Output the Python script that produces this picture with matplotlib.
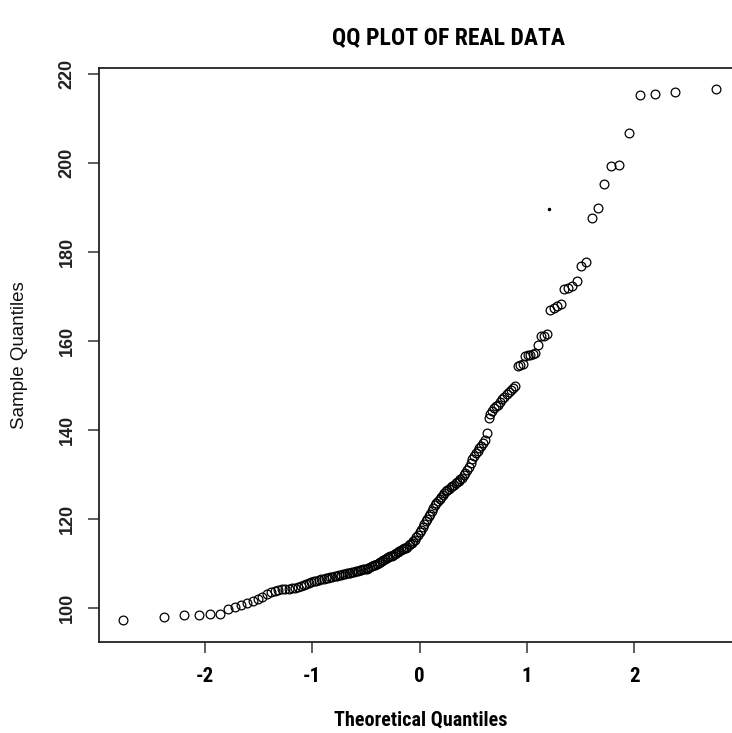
import matplotlib
matplotlib.use("Agg")
import matplotlib.pyplot as plt
from statistics import NormalDist

# Sample values (sorted)
sample_values = [
    97.3, 98.1, 98.4, 98.4, 98.6, 98.6, 99.9, 100.3, 100.6, 101.1,
    101.5, 102.0, 102.6, 103.2, 103.6, 103.9, 104.1, 104.2, 104.3, 104.4,
    104.5, 104.6, 104.8, 105.0, 105.2, 105.4, 105.6, 105.8, 106.0, 106.2,
    106.4, 106.5, 106.6, 106.7, 106.8, 106.9, 107.0, 107.2, 107.3, 107.4,
    107.5, 107.6, 107.7, 107.8, 107.9, 108.0, 108.1, 108.2, 108.3, 108.4,
    108.5, 108.6, 108.7, 108.8, 108.9, 109.0, 109.2, 109.4, 109.6, 109.8,
    110.0, 110.2, 110.4, 110.6, 110.8, 111.0, 111.2, 111.4, 111.6, 111.8,
    112.0, 112.2, 112.4, 112.6, 112.8, 113.0, 113.2, 113.4, 113.6, 113.8,
    114.1, 114.4, 114.7, 115.0, 115.4, 115.9, 116.4, 117.0, 117.6, 118.2,
    118.9, 119.5, 120.1, 120.6, 121.2, 121.8, 122.5, 123.1, 123.6, 124.1,
    124.6, 125.0, 125.4, 125.8, 126.2, 126.5, 126.8, 127.1, 127.4, 127.7,
    128.0, 128.3, 128.6, 128.9, 129.3, 129.8, 130.4, 131.0, 131.8, 132.6,
    133.4, 134.1, 134.8, 135.4, 135.9, 136.4, 137.0, 137.8, 139.4, 142.8,
    143.5, 144.2, 145.0, 145.5, 145.7, 146.3, 147.0, 147.4, 148.0, 148.6,
    149.0, 149.5, 149.8, 154.4, 154.6, 154.8, 156.6, 156.8, 156.9, 157.1,
    157.3, 159.0, 161.0, 161.1, 161.6, 167.0, 167.5, 167.9, 168.3, 171.6,
    171.8, 172.3, 173.4, 176.9, 177.7, 187.7, 189.8, 195.2, 199.2, 199.5,
    206.8, 215.2, 215.5, 216.0, 216.5,
]
# stray small dot in the picture
dot_x = [1.21]
dot_y = [189.6]

title = "QQ PLOT OF REAL DATA"
xlabel = "Theoretical Quantiles"
ylabel = "Sample Quantiles"
xticks = [-2, -1, 0, 1, 2]
yticks = [100, 120, 140, 160, 180, 200, 220]

# theoretical quantiles as R's qqnorm (ppoints, a = 0.5)
n = len(sample_values)
nd = NormalDist()
theo = [nd.inv_cdf((i + 0.5) / n) for i in range(n)]
ys = sorted(sample_values)

cond_family = ["Roboto Condensed", "PT Sans Narrow", "Liberation Sans", "DejaVu Sans"]
reg_family = ["Liberation Sans", "DejaVu Sans"]

fig = plt.figure(figsize=(7.32, 7.33), dpi=100)
ax = fig.add_axes([99 / 732, 1 - 642 / 733, (740 - 99) / 732, (642 - 67.5) / 733])

ax.plot(theo, ys, linestyle="none", marker="o", markersize=6.3,
        markerfacecolor="none", markeredgecolor="black", markeredgewidth=0.9)
ax.plot(dot_x, dot_y, linestyle="none", marker="o", markersize=1.5,
        color="black")

ax.set_xlim(-2.985, 2.985)
ax.set_ylim(92.4, 221.4)
ax.set_xticks(xticks)
ax.set_yticks(yticks)
ax.set_xticklabels([str(v) for v in xticks], family=cond_family,
                   fontweight="bold", fontsize=15)
ax.set_yticklabels([str(v) for v in yticks], family=reg_family,
                   fontweight="bold", fontsize=13, rotation=90, va="center",
                   color="#222222")
ax.tick_params(axis="both", direction="out", length=8, width=1.1, color="#333333")
ax.tick_params(axis="x", pad=10)
ax.tick_params(axis="y", pad=9)
for s in ax.spines.values():
    s.set_linewidth(1.3)
    s.set_color("#222222")

fig.text(448 / 732, 1 - 38 / 733, title, ha="center", va="center",
         family=cond_family, fontweight="bold", fontsize=17)
fig.text(421 / 732, 1 - 720 / 733, xlabel, ha="center", va="center",
         family=cond_family, fontweight="bold", fontsize=14.5)
fig.text(20 / 732, 1 - 355 / 733, ylabel, ha="center", va="center",
         rotation=90, family=reg_family, fontsize=13.5, color="#111111")

fig.savefig("out.png", dpi=100)
